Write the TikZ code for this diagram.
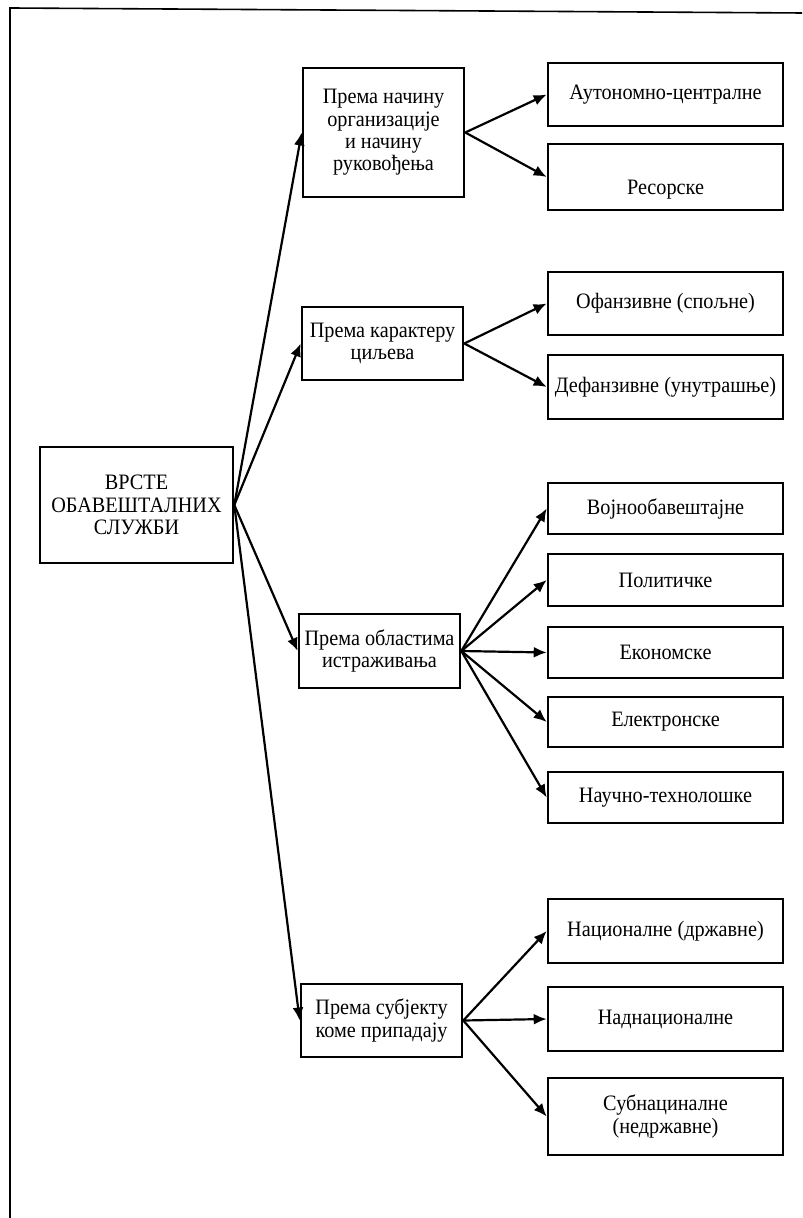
\documentclass[tikz,border=0pt]{standalone}
\usepackage{fontspec}
\setmainfont{Liberation Serif}[FakeStretch=0.92]
\usepackage{tikz}
\usetikzlibrary{arrows.meta, positioning}

\begin{document}
\begin{tikzpicture}[
  x=0.5pt, y=-0.5pt,
  >={Latex[length=6.5pt, width=5.5pt]},
  kutija/.style={draw, line width=1.3pt, align=center, inner sep=1pt,
                 font=\fontsize{11}{11.2}\selectfont},
  kriterij/.style={kutija, minimum width=80.5pt, minimum height=#1},
  vrsta/.style={kutija, minimum width=117.5pt, minimum height=#1},
  veza/.style={->, line width=1.1pt}
]
\useasboundingbox (0,0) rectangle (802,1218);

% ---------- Okvir (skeniran, samo lijevo i gore) ----------
\draw[line width=0.8pt] (10,1218) -- (10,8) -- (802,13);

% ---------- Korijen ----------
\node[kutija, minimum width=96.5pt, minimum height=58pt] (root) at (136.5,505)
  {ВРСТЕ\\ОБАВЕШТАЛНИХ\\СЛУЖБИ};

% ---------- Kriteriji podjele ----------
\node[kriterij=64.5pt] (k1) at (383.5,132.5)
  {Према начину\\организације\\и начину\\руковођења};
\node[kriterij=36.5pt] (k2) at (382.5,343.5) {Према карактеру\\циљева};
\node[kriterij=37pt]   (k3) at (379.5,651)   {Према областима\\истраживања};
\node[kriterij=36.5pt] (k4) at (381.5,1020.5) {Према субјекту\\коме припадају};

% ---------- Vrste službi ----------
\node[vrsta=31.5pt] (v11) at (665.5,94.5)  {Аутономно-централне};
\node[vrsta=33pt]   (v12) at (665.5,177)   {\rule{0pt}{20pt}Ресорске};
\node[vrsta=31.5pt] (v21) at (665.5,303.5) {Офанзивне (спољне)};
\node[vrsta=32pt]   (v22) at (665.5,387)   {Дефанзивне (унутрашње)};
\node[vrsta=25.5pt] (v31) at (665.5,508.5) {Војнообавештајне};
\node[vrsta=26pt]   (v32) at (665.5,580)   {Политичке};
\node[vrsta=25.5pt] (v33) at (665.5,652.5) {Економске};
\node[vrsta=25pt]   (v34) at (665.5,722)   {Електронске};
\node[vrsta=25.5pt] (v35) at (665.5,797.5) {Научно-технолошке};
\node[vrsta=32pt]   (v41) at (665.5,931)   {Националне (државне)};
\node[vrsta=32pt]   (v42) at (665.5,1019)  {Наднационалне};
\node[vrsta=38.5pt] (v43) at (665.5,1116.5) {Субнациналне\\(недржавне)};

% ---------- Strelice ----------
\foreach \k in {1,...,4}
  \draw[veza] (root.east) -- (k\k.west);
\foreach \v in {1,2}
  \draw[veza] (k1.east) -- (v1\v.west);
\foreach \v in {1,2}
  \draw[veza] (k2.east) -- (v2\v.west);
\foreach \v in {1,...,5}
  \draw[veza] (k3.east) -- (v3\v.west);
\foreach \v in {1,2,3}
  \draw[veza] (k4.east) -- (v4\v.west);

\end{tikzpicture}
\end{document}
